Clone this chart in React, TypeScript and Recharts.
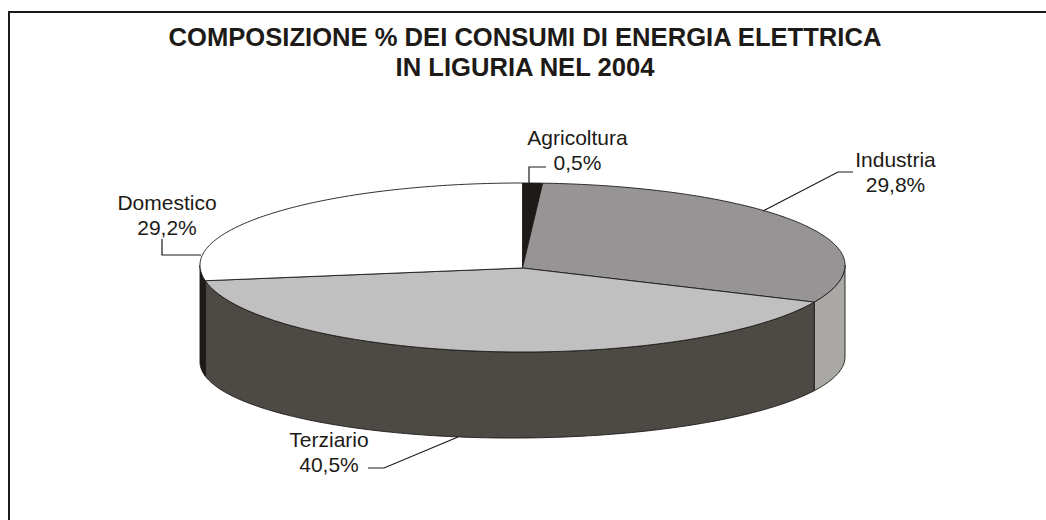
import { Pie, PieChart } from "recharts";

const sliceNames = ["Agricoltura", "Industria", "Terziario", "Domestico"];
const sliceValues = [0.5, 29.8, 40.5, 29.2];
const sliceLabels = ["0,5%", "29,8%", "40,5%", "29,2%"];
const topColors = ["#1d1a17", "#969494", "#c0c0c0", "#ffffff"];
const wallColors = ["#1d1a17", "#a9a8a4", "#4d4945", "#1d1a17"];
const titleLines = ["COMPOSIZIONE % DEI CONSUMI DI ENERGIA ELETTRICA", "IN LIGURIA NEL 2004"];

const chartData = sliceNames.map((name, i) => ({
  name,
  value: sliceValues[i],
  label: sliceLabels[i],
  top: topColors[i],
  wall: wallColors[i],
}));

// label spots: centre x, first baseline, leader polyline
const labelSpots = [
  { x: 577.5, y: 145, leader: "529,183 529,167 546,167" },
  { x: 895.5, y: 167, leader: "763,211 838,172 853,172" },
  { x: 329, y: 447, leader: "368,468 384,468 458,437" },
  { x: 167, y: 210, leader: "162,239 162,255 201,255" },
];

const INK = "#1d1a17";
const BACK_RY = 82;
const FRONT_RY = 87;
const HUB_DROP = 3;
const WALL_DROP = 94.5;
const WALL_TILT = 2.5;
const WALL_RY = 78.5;

const rad = (deg: number) => (deg * Math.PI) / 180;

// Recharts angle -> degrees clockwise from the top, bent a little for the perspective of the original
const turn = (angle: number) => {
  const t = 90 - angle;
  return t + 3.5 * (1 - Math.cos(rad(t)));
};

const rimY = (cy: number, t: number) => {
  const c = Math.cos(rad(t));
  return cy - c * (c > 0 ? BACK_RY : FRONT_RY);
};

function sweep(from: number, to: number) {
  const out: number[] = [];
  for (let t = from; t < to; t += 1) out.push(t);
  out.push(to);
  return out;
}

function TopFace(props: any) {
  const { cx, cy, outerRadius, startAngle, endAngle, payload } = props;
  const pts = sweep(turn(startAngle), turn(endAngle)).map(
    (t) => `${cx + outerRadius * Math.sin(rad(t))},${rimY(cy, t)}`
  );
  const d = `M${cx},${cy + HUB_DROP}L${pts.join("L")}Z`;
  return <path d={d} fill={payload.top} stroke={INK} strokeWidth={0.9} strokeLinejoin="round" />;
}

function WallFace(props: any) {
  const { cx, cy, outerRadius, startAngle, endAngle, payload } = props;
  const from = Math.max(turn(startAngle), 90);
  const to = Math.min(turn(endAngle), 270);
  if (to <= from) return <g />;
  const ts = sweep(from, to);
  const upper = ts.map((t) => `${cx + outerRadius * Math.sin(rad(t))},${rimY(cy, t)}`);
  const lower = ts
    .slice()
    .reverse()
    .map((t) => {
      const y = cy + WALL_DROP - WALL_TILT * Math.sin(rad(t)) - WALL_RY * Math.cos(rad(t));
      return `${cx + outerRadius * Math.sin(rad(t))},${y}`;
    });
  const d = `M${upper.join("L")}L${lower.join("L")}Z`;
  return <path d={d} fill={payload.wall} stroke={INK} strokeWidth={0.9} strokeLinejoin="round" />;
}

function SliceLabel(props: any) {
  const spot = labelSpots[props.index];
  return (
    <g>
      <polyline points={spot.leader} fill="none" stroke={INK} strokeWidth={1.2} />
      <text x={spot.x} y={spot.y} textAnchor="middle" fontSize={21} fill={INK} fontFamily="Liberation Sans">
        {props.name}
      </text>
      <text x={spot.x} y={spot.y + 24.5} textAnchor="middle" fontSize={21} fill={INK} fontFamily="Liberation Sans">
        {props.label}
      </text>
    </g>
  );
}

export default function App() {
  return (
    <div style={{ position: "absolute", left: 0, top: 0, width: 1046, height: 520, background: "#fff", overflow: "hidden" }}>
      <div style={{ position: "absolute", left: 8, top: 11, width: 1040, height: 520, borderLeft: "2px solid #1d1a17", borderTop: "2px solid #1d1a17" }} />
      <div
        style={{
          position: "absolute",
          left: 25,
          width: 1000,
          top: 23,
          textAlign: "center",
          fontFamily: "Liberation Sans",
          fontWeight: 700,
          fontSize: 25.6,
          lineHeight: "29.5px",
          color: INK,
        }}
      >
        {titleLines.map((line) => (
          <div key={line}>{line}</div>
        ))}
      </div>
      <div style={{ position: "absolute", left: 0, top: 0 }}>
        <PieChart width={1046} height={520} margin={{ top: 0, right: 0, bottom: 0, left: 0 }}>
          <Pie
            data={chartData}
            dataKey="value"
            nameKey="name"
            cx={522.5}
            cy={265}
            outerRadius={322.5}
            startAngle={90}
            endAngle={-270}
            minAngle={1.81}
            stroke="none"
            shape={WallFace}
            inactiveShape={WallFace}
            isAnimationActive={false}
          />
          <Pie
            data={chartData}
            dataKey="value"
            nameKey="name"
            cx={522.5}
            cy={265}
            outerRadius={322.5}
            startAngle={90}
            endAngle={-270}
            minAngle={1.81}
            stroke="none"
            shape={TopFace}
            inactiveShape={TopFace}
            label={SliceLabel}
            labelLine={false}
            isAnimationActive={false}
          />
        </PieChart>
      </div>
    </div>
  );
}
